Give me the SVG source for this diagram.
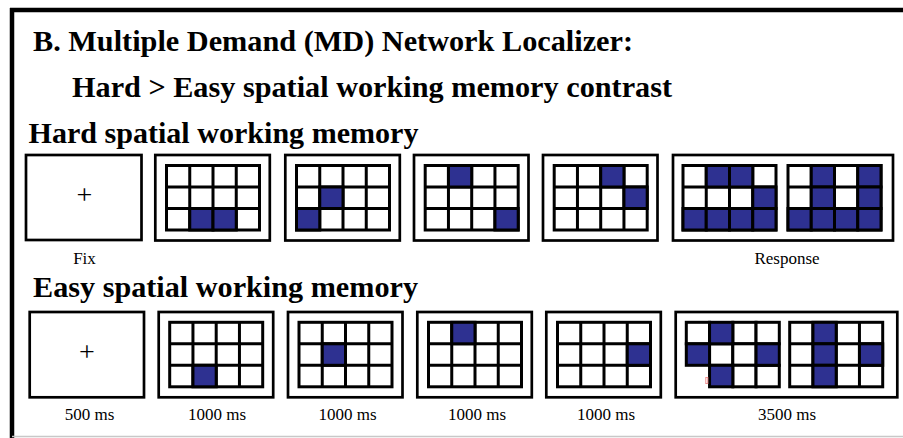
<svg xmlns="http://www.w3.org/2000/svg" xmlns:xlink="http://www.w3.org/1999/xlink" width="903" height="438" viewBox="0 0 903 438">
<style>
.frame{fill:#fff;stroke:#000;stroke-width:2.7}
.cell{fill:#fff;stroke:#000;stroke-width:3}
.on{fill:#2e3191;stroke:#000;stroke-width:3}
.title{font-family:"Liberation Serif","Times New Roman",serif;font-weight:bold;font-size:30px;fill:#000}
.lab{font-family:"Liberation Serif","Times New Roman",serif;font-size:17px;fill:#000;text-anchor:middle}
.plus{font-family:"Liberation Serif","Times New Roman",serif;font-size:28px;fill:#000;text-anchor:middle}
</style>
<defs>
<g id="grid">
<rect class="cell" x="0" y="0" width="93" height="64.5"/>
<path d="M23.25 0V64.5M46.5 0V64.5M69.75 0V64.5M0 21.5H93M0 43H93" fill="none" stroke="#000" stroke-width="3"/>
</g>
<rect id="c" class="on" width="23.25" height="21.5"/>
</defs>
<rect width="903" height="438" fill="#fff"/>
<g id="border">
<path d="M10 10H903" stroke="#000" stroke-width="4.5" fill="none"/>
<path d="M12 8V438" stroke="#000" stroke-width="4.5" fill="none"/>
<path d="M12 436.5H903" stroke="#c8c8c8" stroke-width="1.5" fill="none"/>
</g>
<g id="titles">
<text class="title" x="33" y="51" textLength="600" lengthAdjust="spacingAndGlyphs">B. Multiple Demand (MD) Network Localizer:</text>
<text class="title" x="72" y="97" textLength="600" lengthAdjust="spacingAndGlyphs">Hard &gt; Easy spatial working memory contrast</text>
<text class="title" x="28.5" y="142.5" textLength="390" lengthAdjust="spacingAndGlyphs">Hard spatial working memory</text>
<text class="title" x="33" y="297" textLength="385" lengthAdjust="spacingAndGlyphs">Easy spatial working memory</text>
</g>
<g id="hard-fix">
<rect class="frame" x="26" y="155" width="115.5" height="85"/>
<text class="plus" x="84.5" y="203.5">+</text>
<text class="lab" x="84.5" y="264">Fix</text>
</g>
<g id="hard-1">
<rect class="frame" x="155.3" y="155" width="114.5" height="85.5"/>
<g transform="translate(166.5 165.5)"><use xlink:href="#grid"/><use xlink:href="#c" x="23.25" y="43"/><use xlink:href="#c" x="46.5" y="43"/></g>
</g>
<g id="hard-2">
<rect class="frame" x="285.3" y="155" width="114.5" height="85.5"/>
<g transform="translate(296.5 165.5)"><use xlink:href="#grid"/><use xlink:href="#c" x="23.25" y="21.5"/><use xlink:href="#c" x="0" y="43"/></g>
</g>
<g id="hard-3">
<rect class="frame" x="414" y="155" width="114.5" height="85.5"/>
<g transform="translate(425.2 165.5)"><use xlink:href="#grid"/><use xlink:href="#c" x="23.25" y="0"/><use xlink:href="#c" x="69.75" y="43"/></g>
</g>
<g id="hard-4">
<rect class="frame" x="543" y="155" width="114.5" height="85.5"/>
<g transform="translate(554.2 165.5)"><use xlink:href="#grid"/><use xlink:href="#c" x="46.5" y="0"/><use xlink:href="#c" x="69.75" y="21.5"/></g>
</g>
<g id="hard-response">
<rect class="frame" x="673" y="155" width="220" height="85.5"/>
<g transform="translate(683 165.5)"><use xlink:href="#grid"/><use xlink:href="#c" x="23.25" y="0"/><use xlink:href="#c" x="46.5" y="0"/><use xlink:href="#c" x="69.75" y="21.5"/><use xlink:href="#c" x="0" y="43"/><use xlink:href="#c" x="23.25" y="43"/><use xlink:href="#c" x="46.5" y="43"/><use xlink:href="#c" x="69.75" y="43"/></g>
<g transform="translate(788 165.5)"><use xlink:href="#grid"/><use xlink:href="#c" x="23.25" y="0"/><use xlink:href="#c" x="69.75" y="0"/><use xlink:href="#c" x="23.25" y="21.5"/><use xlink:href="#c" x="69.75" y="21.5"/><use xlink:href="#c" x="0" y="43"/><use xlink:href="#c" x="23.25" y="43"/><use xlink:href="#c" x="46.5" y="43"/><use xlink:href="#c" x="69.75" y="43"/></g>
<text class="lab" x="787" y="264">Response</text>
</g>
<g id="easy-fix">
<rect class="frame" x="29.7" y="312" width="114.3" height="85.3"/>
<text class="plus" x="87" y="360.5">+</text>
<text class="lab" x="89.5" y="419.5">500 ms</text>
</g>
<g id="easy-1">
<rect class="frame" x="158.7" y="312" width="114.5" height="85.3"/>
<g transform="translate(169.7 322.3)"><use xlink:href="#grid"/><use xlink:href="#c" x="23.25" y="43"/></g>
<text class="lab" x="217" y="419.5">1000 ms</text>
</g>
<g id="easy-2">
<rect class="frame" x="288" y="312" width="114.5" height="85.3"/>
<g transform="translate(299 322.3)"><use xlink:href="#grid"/><use xlink:href="#c" x="23.25" y="21.5"/></g>
<text class="lab" x="347.5" y="419.5">1000 ms</text>
</g>
<g id="easy-3">
<rect class="frame" x="417.3" y="312" width="114.5" height="85.3"/>
<g transform="translate(428.5 322.3)"><use xlink:href="#grid"/><use xlink:href="#c" x="23.25" y="0"/></g>
<text class="lab" x="477" y="419.5">1000 ms</text>
</g>
<g id="easy-4">
<rect class="frame" x="546.3" y="312" width="114.5" height="85.3"/>
<g transform="translate(557.5 322.3)"><use xlink:href="#grid"/><use xlink:href="#c" x="69.75" y="21.5"/></g>
<text class="lab" x="606" y="419.5">1000 ms</text>
</g>
<g id="easy-response">
<rect class="frame" x="675.7" y="312" width="221.6" height="85.3"/>
<g transform="translate(686.3 322.3)">
<rect class="cell" x="0" y="0" width="23.25" height="21.5"/>
<rect class="cell" x="46.5" y="0" width="23.25" height="21.5"/>
<rect class="cell" x="69.75" y="0" width="23.25" height="21.5"/>
<rect class="cell" x="23.25" y="21.5" width="23.25" height="21.5"/>
<rect class="cell" x="46.5" y="21.5" width="23.25" height="21.5"/>
<rect class="cell" x="46.5" y="43" width="23.25" height="21.5"/>
<rect class="cell" x="69.75" y="43" width="23.25" height="21.5"/>
<use xlink:href="#c" x="23.25" y="0"/><use xlink:href="#c" x="0" y="21.5"/><use xlink:href="#c" x="69.75" y="21.5"/><use xlink:href="#c" x="23.25" y="43"/>
</g>
<rect x="705.8" y="377.5" width="2" height="6" fill="none" stroke="#f09090" stroke-width="1"/>
<g transform="translate(789.7 322.3)"><use xlink:href="#grid"/><use xlink:href="#c" x="23.25" y="0"/><use xlink:href="#c" x="23.25" y="21.5"/><use xlink:href="#c" x="69.75" y="21.5"/><use xlink:href="#c" x="23.25" y="43"/></g>
<text class="lab" x="787" y="419.5">3500 ms</text>
</g>
<g id="connectors"/>
</svg>
